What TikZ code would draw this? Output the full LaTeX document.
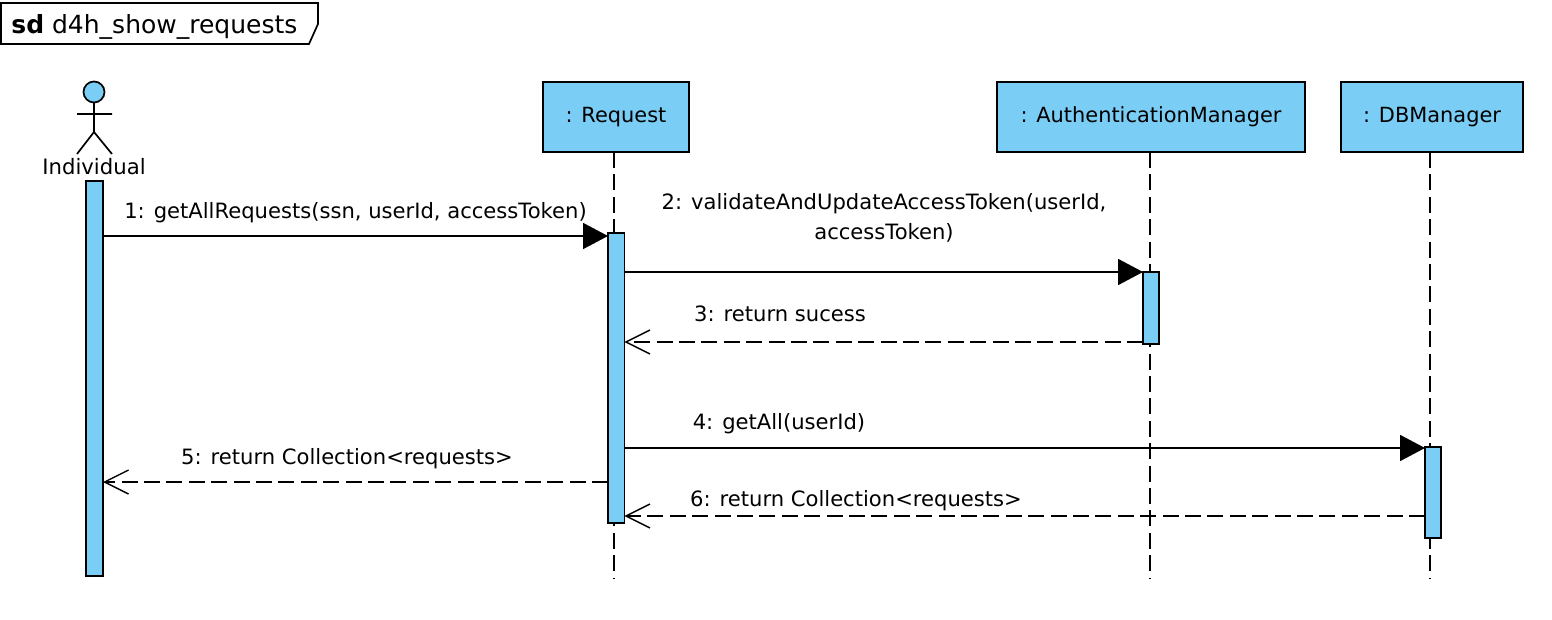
\documentclass[tikz,border=0pt]{standalone}
\usepackage{fontspec}
\setmainfont{DejaVu Sans}
\usetikzlibrary{arrows.meta}
\definecolor{umlblue}{HTML}{7ACEF5}
\tikzset{
  line/.style={draw=black,line width=0.85pt},
  lifebox/.style={line,fill=umlblue,rectangle,inner sep=0pt,outer sep=0pt,anchor=north west,font=\fontsize{10.45}{13}\selectfont},
  actbar/.style={line,fill=umlblue,rectangle,inner sep=0pt,outer sep=0pt,anchor=north west},
  lifeline/.style={line,dash pattern=on 8pt off 3.2pt},
  msg/.style={inner sep=0pt,outer sep=0pt,font=\fontsize{10.55}{15}\selectfont,align=center},
  sync/.style={line,-{Triangle[length=12.5pt,width=13pt,fill=black]}},
  reply/.style={line,dash pattern=on 8pt off 3.2pt,-{Straight Barb[length=12pt,width=12pt,line width=0.7pt]}}
}
\begin{document}
\begin{tikzpicture}[x=0.5pt,y=-0.5pt]
\useasboundingbox (0,0) rectangle (1552,620);
% frame tab
\draw[line] (1,3) -- (318,3) -- (318,24) -- (309,44) -- (1,44) -- cycle;
\node[inner sep=0pt,anchor=base west,font=\fontsize{12.5}{15}\selectfont] (title) at (11,34) {\textbf{sd} d4h\_show\_requests};
% lifeline heads
\node[lifebox,minimum width=73pt,minimum height=35pt] (req) at (543,82) {\raisebox{-1.5pt}{: Request}};
\node[lifebox,minimum width=154pt,minimum height=35pt] (auth) at (997,82) {\raisebox{-1.5pt}{: AuthenticationManager}};
\node[lifebox,minimum width=91pt,minimum height=35pt] (db) at (1341,82) {\raisebox{-1.5pt}{: DBManager}};
% actor
\node[line,fill=umlblue,circle,minimum size=10.5pt,inner sep=0pt,outer sep=0pt] (head) at (94,92) {};
\coordinate (hip) at (94,132);
\coordinate (armL) at (77,114);
\coordinate (armR) at (112,114);
\coordinate (legL) at (77,154);
\coordinate (legR) at (112,154);
\draw[line] (head.south) -- (hip) (armL) -- (armR) (legL) -- (hip) -- (legR);
\node[inner sep=0pt,font=\fontsize{10.6}{13}\selectfont] (actor) at (94,167) {Individual};
% lifeline ends
\coordinate (endreq) at (614,578);
\coordinate (endauth) at (1150,578);
\coordinate (enddb) at (1430,578);
\draw[lifeline] (req.south -| endreq) -- (endreq);
\draw[lifeline] (auth.south -| endauth) -- (endauth);
\draw[lifeline] (db.south -| enddb) -- (enddb);
% activation bars
\node[actbar,minimum width=8.5pt,minimum height=197.5pt] (a1) at (86,181) {};
\node[actbar,minimum width=8.2pt,minimum height=145pt] (a2) at (608,233) {};
\node[actbar,minimum width=8pt,minimum height=36pt] (a3) at (1143,272) {};
\node[actbar,minimum width=8pt,minimum height=45.5pt] (a4) at (1425,447) {};
% message levels
\coordinate (y1) at (0,236);
\coordinate (y2) at (0,272);
\coordinate (y3) at (0,342);
\coordinate (y4) at (0,448);
\coordinate (y5) at (0,482);
\coordinate (y6) at (0,516);
\draw[sync] (a1.east |- y1) -- (a2.west |- y1);
\draw[sync] (a2.east |- y2) -- (a3.west |- y2);
\draw[reply] (a3.west |- y3) -- (a2.east |- y3);
\draw[sync] (a2.east |- y4) -- (a4.west |- y4);
\draw[reply] (a2.west |- y5) -- (a1.east |- y5);
\draw[reply] (a4.west |- y6) -- (a2.east |- y6);
% labels
\node[msg] (m1) at (355.5,212.5) {1: getAllRequests(ssn, userId, accessToken)};
\node[msg] (m2) at (884,218) {2: validateAndUpdateAccessToken(userId,\\accessToken)};
\node[msg] (m3) at (780,314) {3: return sucess};
\node[msg] (m4) at (779,423.5) {4: getAll(userId)};
\node[msg] (m5) at (347,458.5) {5: return Collection<requests>};
\node[msg] (m6) at (856,500.5) {6: return Collection<requests>};
\end{tikzpicture}
\end{document}
